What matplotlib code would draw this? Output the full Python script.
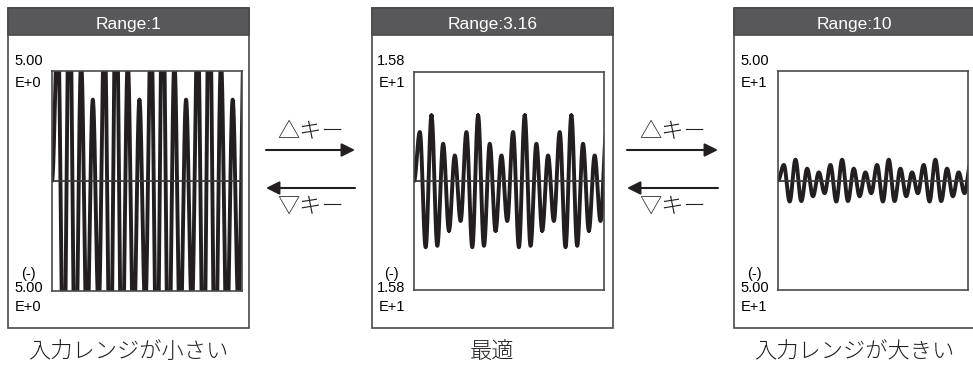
import numpy as np
import matplotlib
matplotlib.use("Agg")
import matplotlib.pyplot as plt
from matplotlib.patches import Rectangle

# signal extrema read off the Range:3.16 panel (signal units, full scale 15.8)
# peaks and troughs alternate every half cycle, curve starts at 0 on the left edge
peaks = [7.1, 9.5, 5.4, 3.7, 7.1, 9.5, 5.4, 3.7,
         7.1, 9.5, 5.4, 3.7, 7.1, 9.5, 5.4, 3.7, 7.1]
troughs = [-9.6, -9.4, -7.2, -5.8, -9.6, -9.4, -7.2, -5.8,
           -9.6, -9.4, -7.2, -5.8, -9.6, -9.4, -7.2, -5.8]
n_cycles = 16.3

# one panel per input range
range_titles = ["Range:1", "Range:3.16", "Range:10"]
full_scale = [5.0, 15.8, 50.0]
scale_text = ["5.00", "1.58", "5.00"]
exp_text = ["E+0", "E+1", "E+1"]
captions = ["入力レンジが小さい", "最適", "入力レンジが大きい"]
up_key = "△キー"
down_key = "▽キー"

W, H = 973, 366
fig = plt.figure(figsize=(W / 100, H / 100), dpi=100)
bg = fig.add_axes([0, 0, 1, 1])
bg.set_xlim(0, W)
bg.set_ylim(H, 0)
bg.axis("off")

ink = "#231f20"
frame = "#4a4a4a"
head_col = "#58585a"
latin = ["Liberation Sans", "DejaVu Sans"]
cjk = ["Noto Sans CJK JP", "DejaVu Sans"]

# build the waveform from the extrema (half-cosine between neighbours)
ext = [0.0]
for p, q in zip(peaks, troughs + [None]):
    ext.append(p)
    if q is not None:
        ext.append(q)
ext = np.array(ext)
t_ext = np.arange(len(ext)) * 0.5
s = np.linspace(0, 1, 30)
tt, yy = [], []
for k in range(len(ext) - 1):
    tt.append(t_ext[k] + 0.5 * s)
    yy.append(ext[k] + (ext[k + 1] - ext[k]) * (1 - np.cos(np.pi * s)) / 2)
tt = np.concatenate(tt)
yy = np.concatenate(yy)

# layout in pixels: outer left, inner left, inner top, inner bottom
outer_left = [8, 372, 734]
inner_left = [52, 414, 778]
inner_top = [71, 72, 71]
inner_bot = [291, 290, 290]
outer_w, inner_w = 241, 190
outer_top, head_bot, outer_bot = 8, 35, 328

for i in range(3):
    ox = outer_left[i]
    bg.add_patch(Rectangle((ox, outer_top), outer_w, outer_bot - outer_top,
                           fill=False, ec=frame, lw=1.2))
    bg.add_patch(Rectangle((ox, outer_top), outer_w, head_bot - outer_top,
                           fc=head_col, ec=frame, lw=1.2))
    cx = ox + outer_w / 2
    bg.text(cx, 29, range_titles[i], color="white", fontsize=12.5,
            ha="center", va="baseline", family=latin)

    lx = (ox + inner_left[i]) / 2 - 1.5
    fs = 10.5
    bg.text(lx, 65, scale_text[i], fontsize=fs, ha="center", va="baseline", family=latin)
    bg.text(lx, 87, exp_text[i], fontsize=fs, ha="center", va="baseline", family=latin)
    bg.text(lx, 278, "(-)", fontsize=fs, ha="center", va="baseline", family=latin)
    bg.text(lx, 292, scale_text[i], fontsize=fs, ha="center", va="baseline", family=latin)
    bg.text(lx, 311, exp_text[i], fontsize=fs, ha="center", va="baseline", family=latin)

    bg.text(cx, 352, captions[i], fontsize=16, ha="center", va="center",
            family=cjk, color=ink, fontweight="light")

    ax = fig.add_axes([inner_left[i] / W, 1 - inner_bot[i] / H,
                       inner_w / W, (inner_bot[i] - inner_top[i]) / H])
    ax.plot(tt, yy, color=ink, lw=2.8, solid_capstyle="round",
            solid_joinstyle="round", zorder=2)
    ax.axhline(0, color="#3a3a3a", lw=1.3, zorder=3)
    ax.set_xlim(0, n_cycles)
    ax.set_ylim(-full_scale[i], full_scale[i])
    ax.set_xticks([])
    ax.set_yticks([])
    for sp in ax.spines.values():
        sp.set_color(frame)
        sp.set_linewidth(1.2)

# key arrows between the panels
for x0, x1 in [(266, 355), (627, 718)]:
    xc = (x0 + x1) / 2
    bg.annotate("", xy=(x1, 150), xytext=(x0, 150),
                arrowprops=dict(arrowstyle="-|>", lw=1.5, color=ink,
                                mutation_scale=20, shrinkA=0, shrinkB=0))
    bg.annotate("", xy=(x0, 188), xytext=(x1, 188),
                arrowprops=dict(arrowstyle="-|>", lw=1.5, color=ink,
                                mutation_scale=20, shrinkA=0, shrinkB=0))
    bg.text(xc, 132, up_key, fontsize=16, ha="center", va="center",
            family=cjk, color=ink, fontweight="light")
    bg.text(xc, 207, down_key, fontsize=16, ha="center", va="center",
            family=cjk, color=ink, fontweight="light")

fig.savefig("out.png", dpi=100)
